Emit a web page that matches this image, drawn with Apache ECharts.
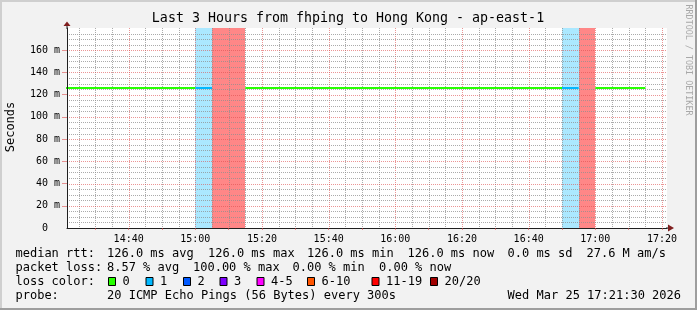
<!DOCTYPE html>
<html>
<head>
<meta charset="utf-8">
<script src="https://cdn.jsdelivr.net/npm/echarts@6/dist/echarts.min.js"></script>
<style>
html,body{margin:0;padding:0;background:#f2f2f2;}
#c{width:697px;height:310px;}
</style>
</head>
<body>
<div id="c"></div>
<script>
// ---------------- data ----------------
const chartTitle = 'Last 3 Hours from fhping to Hong Kong - ap-east-1';
const yAxisTitle = 'Seconds';
const sideText = 'RRDTOOL / TOBI OETIKER';
const windowEnd = '17:21:30';
const windowHours = 3;
const timeTickLabels = ['14:40','15:00','15:20','15:40','16:00','16:20','16:40','17:00','17:20'];
const yTickValues = [0, 20, 40, 60, 80, 100, 120, 140, 160];
const yTickLabels = ['0','20 m','40 m','60 m','80 m','100 m','120 m','140 m','160 m'];
// 5-minute steps (end time of each step)
const stepEndTimes = ['14:25','14:30','14:35','14:40','14:45','14:50','14:55','15:00','15:05','15:10',
  '15:15','15:20','15:25','15:30','15:35','15:40','15:45','15:50','15:55','16:00',
  '16:05','16:10','16:15','16:20','16:25','16:30','16:35','16:40','16:45','16:50',
  '16:55','17:00','17:05','17:10','17:15'];
const medianRttMs = [126,126,126,126,126,126,126,126,126,null,
  null,126,126,126,126,126,126,126,126,126,
  126,126,126,126,126,126,126,126,126,126,
  126,null,126,126,126];
const lostPings = [0,0,0,0,0,0,0,0,1,20,
  20,0,0,0,0,0,0,0,0,0,
  0,0,0,0,0,0,0,0,0,0,
  1,20,0,0,0];
const lossColorLabels = ['0','1','2','3','4-5','6-10','11-19','20/20'];
const rttStats = ['126.0 ms avg','126.0 ms max','126.0 ms min','126.0 ms now','0.0 ms sd','27.6 M am/s'];
const lossStats = ['8.57 % avg','100.00 % max','0.00 % min','0.00 % now'];
const probeText = '20 ICMP Echo Pings (56 Bytes) every 300s';
const stampText = 'Wed Mar 25 17:21:30 2026';

// ---------------- style ----------------
const FONT = 'DejaVu Sans Mono';
const lossColors = ['#26ff00','#00b8ff','#0059ff','#7e00ff','#ff00ff','#ff5500','#ff0000','#a10000'];
const bandColors = ['rgba(0,0,0,0)','rgba(0,184,255,0.33)','rgba(0,89,255,0.33)','rgba(126,0,255,0.33)',
  'rgba(255,0,255,0.33)','rgba(255,85,0,0.4)','rgba(255,0,0,0.47)','rgba(255,0,0,0.47)'];
const GRID_MINOR = 'rgba(143,143,143,0.75)';
const GRID_MAJOR = 'rgba(222,79,79,0.6)';
const AXIS_COL = '#1f1f1f';
const ARROW_COL = '#801f1f';

function toMin(s){ const p = s.split(':').map(Number); return p[0]*60 + p[1] + (p[2]||0)/60; }
function lossIndex(n){ if(n<=3) return n; if(n<=5) return 4; if(n<=10) return 5; if(n<=19) return 6; return 7; }

const xMax = toMin(windowEnd);
const xMin = xMax - windowHours*60;
const yMax = 180;
const stepLen = toMin(stepEndTimes[1]) - toMin(stepEndTimes[0]);
const xLabelValues = timeTickLabels.map(toMin);

// rtt line series per loss colour
const lineSeries = [];
for (let k = 0; k < lossColors.length; k++) {
  const pts = [];
  let prevIn = false;
  stepEndTimes.forEach((t, i) => {
    const v = medianRttMs[i];
    const inK = v !== null && lossIndex(lostPings[i]) === k;
    if (inK) {
      const te = toMin(t);
      if (!prevIn) pts.push([te - stepLen, v]);
      pts.push([te, v]);
    } else if (prevIn) {
      pts.push(null);
    }
    prevIn = inK;
  });
  if (pts.some(p => p)) {
    lineSeries.push({
      type: 'line', z: 10, data: pts, showSymbol: false, silent: true,
      connectNulls: false, animation: false,
      lineStyle: { color: lossColors[k], width: 2 }
    });
  }
}

// loss bands [start, end, loss colour index]
const bandData = [];
stepEndTimes.forEach((t, i) => {
  if (lostPings[i] > 0) {
    const te = toMin(t);
    bandData.push([te - stepLen, te, lossIndex(lostPings[i])]);
  }
});

// grid positions: [value, isMajor]
const xGrid = [], yGrid = [], xTicks10 = [];
for (let m = Math.ceil(xMin/5)*5; m < xMax; m += 5) xGrid.push([m, xLabelValues.indexOf(m) >= 0]);
for (let m = Math.ceil(xMin/10)*10; m < xMax; m += 10) xTicks10.push(m);
for (let v = 5; v < yMax; v += 5) yGrid.push([v, yTickValues.indexOf(v) >= 0]);
const yMajorGrid = yTickValues.slice(1);

// ---------------- graphics (chrome + legend) ----------------
const graphics = [];
graphics.push({ type:'rect', shape:{x:0,y:0,width:697,height:2}, style:{fill:'#cfcfcf'}, silent:true });
graphics.push({ type:'rect', shape:{x:0,y:0,width:2,height:310}, style:{fill:'#cfcfcf'}, silent:true });
graphics.push({ type:'rect', shape:{x:0,y:308,width:697,height:2}, style:{fill:'#9e9e9e'}, silent:true });
graphics.push({ type:'rect', shape:{x:695,y:0,width:2,height:310}, style:{fill:'#9e9e9e'}, silent:true });
graphics.push({ type:'text', x:348, y:19, style:{ text: chartTitle, font:'13.3px "'+FONT+'"', fill:'#000', align:'center', verticalAlign:'middle' }, silent:true });
graphics.push({ type:'text', x:11, y:127, rotation:Math.PI/2, style:{ text: yAxisTitle, font:'12px "'+FONT+'"', fill:'#000', align:'center', verticalAlign:'middle' }, silent:true });
graphics.push({ type:'text', x:688.5, y:60, rotation:-Math.PI/2, style:{ text: sideText, font:'8.4px "'+FONT+'"', fill:'#a8a8a8', align:'center', verticalAlign:'middle' }, silent:true });
graphics.push({ type:'polygon', z: 20, shape:{ points:[[63.5,26],[70.5,26],[67,21.5]] }, style:{ fill: ARROW_COL }, silent:true });
graphics.push({ type:'polygon', z: 20, shape:{ points:[[668,224.5],[668,231.5],[674,228]] }, style:{ fill: ARROW_COL }, silent:true });
graphics.push({ type:'rect', shape:{x:66.5,y:25,width:1,height:4}, style:{fill:AXIS_COL}, silent:true });
graphics.push({ type:'rect', shape:{x:666,y:227.5,width:3,height:1}, style:{fill:AXIS_COL}, silent:true });

const LF = '12px "'+FONT+'"';
function txt(s, x, y, align){ graphics.push({ type:'text', x:x, y:y, style:{ text:s, font:LF, fill:'#000', align: align||'left', verticalAlign:'middle' }, silent:true }); }
const rowY = [254, 268, 282, 296];
txt('median rtt:', 15.5, rowY[0]);
const rttX = [107, 208, 307, 407.5, 507.5, 586.5];
rttStats.forEach((s, i) => txt(s, rttX[i], rowY[0]));
txt('packet loss:', 15.5, rowY[1]);
const lossX = [107, 193, 292.5, 379];
lossStats.forEach((s, i) => txt(s, lossX[i], rowY[1]));
txt('loss color:', 15.5, rowY[2]);
const boxX = [108, 145.5, 183, 219.5, 256.5, 307, 371.5, 430];
lossColorLabels.forEach((s, i) => {
  graphics.push({ type:'rect', shape:{x:boxX[i]+0.5, y:rowY[2]-4.5, width:7, height:8}, style:{ fill: lossColors[i], stroke:'#000', lineWidth:1 }, silent:true });
  txt(s, boxX[i] + 14.5, rowY[2]);
});
txt('probe:', 15.5, rowY[3]);
txt(probeText, 107, rowY[3]);
txt(stampText, 681, rowY[3], 'right');

// ---------------- chart ----------------
const chart = echarts.init(document.getElementById('c'), null, { renderer: 'canvas', width: 697, height: 310 });
chart.setOption({
  animation: false,
  backgroundColor: '#f2f2f2',
  grid: { left: 67, top: 28, width: 600, height: 200, show: true, backgroundColor: '#ffffff', borderWidth: 0, containLabel: false },
  xAxis: {
    type: 'value', min: xMin, max: xMax, z: 12,
    axisLine: { show: true, lineStyle: { color: AXIS_COL, width: 1 } },
    axisTick: { show: true, customValues: xTicks10, length: 2, lineStyle: { color: GRID_MAJOR } },
    axisLabel: { customValues: xLabelValues, margin: 6, fontFamily: FONT, fontSize: 10, color: '#000',
      formatter: v => timeTickLabels[xLabelValues.indexOf(v)] || '' },
    splitLine: { show: false }
  },
  yAxis: {
    type: 'value', min: 0, max: yMax, z: 12,
    axisLine: { show: true, lineStyle: { color: AXIS_COL, width: 1 } },
    axisTick: { show: true, customValues: yMajorGrid, length: 5, lineStyle: { color: GRID_MAJOR } },
    axisLabel: { customValues: yTickValues, margin: 7, fontFamily: FONT, fontSize: 10, color: '#000',
      formatter: v => { const l = yTickLabels[yTickValues.indexOf(v)]; if (l === undefined) return ''; return l.indexOf(' ') >= 0 ? l : l + '\u00a0\u00a0'; } },
    splitLine: { show: false }
  },
  series: [
    { type: 'custom', z: 1, silent: true, data: bandData, encode: { x: [0, 1] },
      renderItem: (params, api) => {
        const cs = params.coordSys;
        const x0 = Math.round(api.coord([api.value(0), 0])[0]);
        const x1 = Math.round(api.coord([api.value(1), 0])[0]);
        return { type: 'rect', shape: { x: x0, y: cs.y, width: x1 - x0, height: cs.height },
          style: { fill: bandColors[api.value(2)] } };
      } }
  ].concat(lineSeries)
});

// grid lines placed through the chart's own scales, drawn above the loss bands
const tl = chart.convertToPixel({ gridIndex: 0 }, [xMin, yMax]);
const br = chart.convertToPixel({ gridIndex: 0 }, [xMax, 0]);
const gridEls = [];
xGrid.forEach(g => {
  const x = Math.round(chart.convertToPixel({ gridIndex: 0 }, [g[0], 0])[0]) + 0.5;
  gridEls.push({ type: 'line', z: 6, silent: true, shape: { x1: x, y1: tl[1], x2: x, y2: br[1] },
    style: { stroke: g[1] ? GRID_MAJOR : GRID_MINOR, lineWidth: 1, lineDash: [1, 1] } });
});
yGrid.forEach(g => {
  const y = Math.round(chart.convertToPixel({ gridIndex: 0 }, [xMin, g[0]])[1]) + 0.5;
  gridEls.push({ type: 'line', z: 6, silent: true, shape: { x1: tl[0], y1: y, x2: br[0], y2: y },
    style: { stroke: g[1] ? GRID_MAJOR : GRID_MINOR, lineWidth: 1, lineDash: [1, 1] } });
});
chart.setOption({ graphic: gridEls.concat(graphics) });
</script>
</body>
</html>
